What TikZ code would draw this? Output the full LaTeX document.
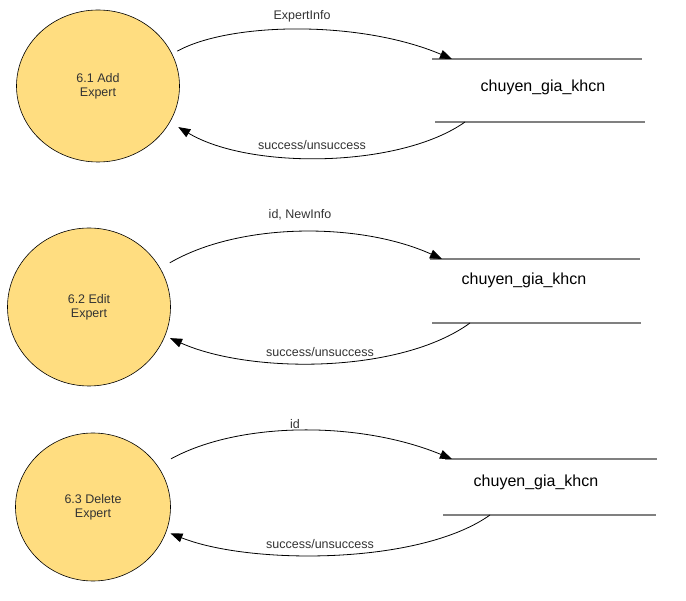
\documentclass[tikz,border=0pt]{standalone}
\usepackage{fontspec}
\setmainfont{Liberation Sans}
\usetikzlibrary{arrows.meta,shapes.geometric}
\definecolor{procfill}{RGB}{255,221,128}
\definecolor{labgray}{RGB}{51,51,51}
\definecolor{storegray}{RGB}{128,128,128}
\tikzset{
  proc/.style={ellipse,draw=black,line width=0.6pt,fill=procfill,inner sep=0pt,
    text=labgray,align=center,font=\fontsize{12.5}{14}\selectfont},
  storetext/.style={inner sep=0pt,font=\fontsize{16}{18}\selectfont,text=black},
  storeline/.style={draw=storegray,line width=1.6pt},
  flow/.style={draw=black,line width=0.8pt,-{Triangle[length=12pt,width=9pt]}},
  flowlabel/.style={inner sep=0pt,text=labgray,font=\fontsize{12.5}{14}\selectfont}
}
\begin{document}
\begin{tikzpicture}[x=1pt,y=1pt]
\useasboundingbox (0,0) rectangle (686,-601);
% processes
\node[proc,minimum width=163pt,minimum height=152pt] (p1) at (98,-86) {6.1 Add\\Expert};
\node[proc,minimum width=163pt,minimum height=158pt] (p2) at (89,-307) {6.2 Edit\\Expert};
\node[proc,minimum width=155pt,minimum height=148pt] (p3) at (93,-507) {6.3 Delete\\Expert};
% data stores
\node[storetext] (s1) at (543,-87) {chuyen\_gia\_khcn};
\draw[storeline] (432,-59) -- (642,-59);
\draw[storeline] (435,-122) -- (645,-122);
\node[storetext] (s2) at (524,-280) {chuyen\_gia\_khcn};
\draw[storeline] (430,-259) -- (640,-259);
\draw[storeline] (432,-323) -- (641,-323);
\node[storetext] (s3) at (536,-482) {chuyen\_gia\_khcn};
\draw[storeline] (445,-459) -- (657,-459);
\draw[storeline] (443,-515) -- (656,-515);
% connector ends on the stores
\coordinate (s1in) at (452,-59);
\coordinate (s1out) at (465,-122);
\coordinate (s2in) at (442,-259);
\coordinate (s2out) at (470,-323);
\coordinate (s3in) at (452,-459);
\coordinate (s3out) at (490,-515);
% flows
\draw[flow] ([shift={(5.5,2)}]p1.24) .. controls (230,-22) and (360,-20) .. (s1in);
\draw[flow] (s1out) .. controls (400,-168) and (250,-170) .. ([shift={(8.5,-4.5)}]p1.-27);
\draw[flow] ([shift={(9,6)}]p2.28) .. controls (240,-222) and (360,-222) .. (s2in);
\draw[flow] (s2out) .. controls (400,-374) and (250,-374) .. ([shift={(8,4.5)}]p2.-26);
\draw[flow] ([shift={(10,12)}]p3.28) .. controls (240,-421) and (360,-421) .. (s3in);
\draw[flow] (s3out) .. controls (420,-565) and (250,-565) .. ([shift={(7,5)}]p3.-24);
% labels
\node[flowlabel] (l1) at (302,-16) {ExpertInfo};
\node[flowlabel] (l2) at (312,-145) {success/unsuccess};
\node[flowlabel] (l3) at (300,-215) {id, NewInfo};
\node[flowlabel] (l4) at (320,-352) {success/unsuccess};
\node[flowlabel] (l5) at (295,-424) {id};
\node[flowlabel] (l6) at (320,-544) {success/unsuccess};
\end{tikzpicture}
\end{document}
